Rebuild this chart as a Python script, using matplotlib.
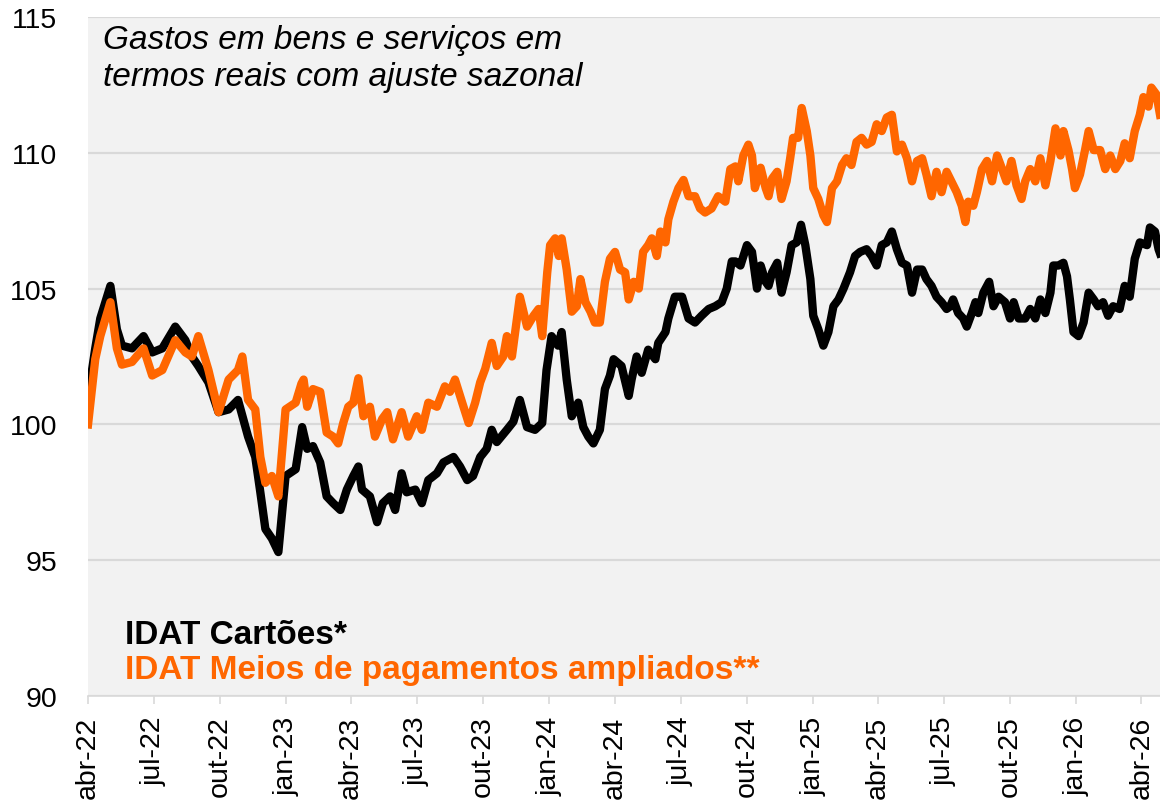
import matplotlib
matplotlib.use("Agg")
import matplotlib.pyplot as plt
import pandas as pd

plt.rcParams['font.family'] = ['Liberation Sans', 'DejaVu Sans']

# dias desde 01/04/2022 e valores
dias_cartoes = [0, 10, 17, 31, 40, 47, 61, 77, 89, 103, 121, 135, 144, 153, 167, 181, 195, 208,
                222, 232, 239, 246, 255, 264, 274, 288, 297, 304, 312, 322, 331, 340, 350, 359,
                368, 375, 380, 391, 401, 409, 419, 426, 435, 442, 454, 463, 472, 484, 493, 507,
                516, 526, 534, 544, 553, 560, 567, 581, 590, 599, 609, 620, 630, 636, 643, 652,
                657, 664, 671, 680, 687, 694, 701, 710, 717, 724, 729, 740, 750, 754, 761, 768,
                777, 787, 791, 801, 805, 814, 824, 833, 842, 851, 861, 870, 879, 886, 893, 898,
                905, 914, 921, 928, 933, 940, 944, 949, 956, 962, 969, 976, 983, 989, 995, 1002,
                1006, 1013, 1020, 1027, 1034, 1041, 1048, 1057, 1064, 1071, 1080, 1087, 1094,
                1101, 1108, 1115, 1122, 1129, 1136, 1143, 1150, 1157, 1163, 1170, 1177, 1184,
                1191, 1196, 1200, 1207, 1214, 1219, 1226, 1231, 1235, 1242, 1250, 1256, 1263,
                1272, 1279, 1284, 1291, 1300, 1307, 1314, 1321, 1328, 1335, 1339, 1346, 1353,
                1358, 1362, 1367, 1374, 1381, 1388, 1395, 1401, 1408, 1415, 1422, 1431, 1438,
                1445, 1452, 1459, 1469, 1473, 1480, 1485, 1487]
cartoes = [101.0, 102.8, 103.9, 105.1, 103.5, 102.9, 102.8, 103.25, 102.65, 102.8, 103.6, 103.1,
           102.5, 102.15, 101.55, 100.45, 100.55, 100.9, 99.55, 98.8, 97.5, 96.15, 95.8, 95.3,
           98.1, 98.35, 99.9, 99.1, 99.2, 98.6, 97.35, 97.1, 96.85, 97.6, 98.1, 98.45, 97.6,
           97.35, 96.4, 97.1, 97.35, 96.85, 98.2, 97.5, 97.6, 97.1, 97.95, 98.2, 98.6, 98.8,
           98.45, 97.95, 98.1, 98.8, 99.1, 99.8, 99.35, 99.8, 100.1, 100.9, 99.9, 99.8, 100.05,
           102.0, 103.25, 102.9, 103.4, 101.65, 100.3, 100.8, 99.9, 99.55, 99.3, 99.8, 101.3,
           101.8, 102.4, 102.15, 101.05, 101.65, 102.5, 101.9, 102.75, 102.4, 103.0, 103.4,
           103.9, 104.7, 104.7, 103.9, 103.75, 104.0, 104.25, 104.35, 104.5, 105.0, 106.0,
           106.0, 105.85, 106.6, 106.35, 105.0, 105.85, 105.25, 105.1, 105.6, 105.95, 104.85,
           105.6, 106.6, 106.7, 107.35, 106.6, 105.35, 104.0, 103.5, 102.9, 103.4, 104.35,
           104.6, 105.0, 105.6, 106.2, 106.35, 106.45, 106.2, 105.85, 106.6, 106.7, 107.1,
           106.45, 105.95, 105.85, 104.85, 105.7, 105.7, 105.35, 105.1, 104.7, 104.5, 104.25,
           104.35, 104.6, 104.1, 103.9, 103.6, 104.1, 104.5, 104.1, 104.85, 105.25, 104.35,
           104.7, 104.5, 103.9, 104.5, 103.9, 103.9, 104.25, 103.9, 104.6, 104.1, 104.85,
           105.85, 105.85, 105.95, 105.45, 104.6, 103.4, 103.25, 103.75, 104.85, 104.6, 104.35,
           104.5, 104.0, 104.35, 104.25, 105.1, 104.7, 106.1, 106.7, 106.6, 107.25, 107.1,
           106.45, 106.3]

dias_ampliados = [0, 10, 17, 31, 40, 47, 61, 77, 89, 103, 121, 135, 144, 153, 167, 181, 195, 208,
                  214, 222, 232, 239, 246, 255, 264, 274, 288, 296, 299, 304, 312, 322, 331, 340,
                  347, 354, 361, 368, 375, 382, 391, 398, 408, 415, 423, 435, 444, 456, 463, 472,
                  484, 495, 502, 509, 519, 528, 537, 544, 551, 560, 567, 576, 581, 588, 592, 599,
                  609, 618, 625, 630, 637, 641, 648, 653, 657, 664, 671, 678, 683, 690, 697, 703,
                  710, 717, 724, 731, 738, 745, 750, 757, 764, 770, 777, 782, 789, 794, 801, 805,
                  812, 819, 826, 833, 842, 849, 856, 865, 874, 884, 891, 898, 902, 909, 916, 921,
                  925, 933, 940, 944, 949, 956, 962, 969, 974, 978, 985, 990, 997, 1002, 1006,
                  1013, 1020, 1025, 1032, 1039, 1046, 1052, 1059, 1066, 1073, 1080, 1087, 1094,
                  1101, 1108, 1115, 1122, 1129, 1136, 1143, 1150, 1157, 1163, 1170, 1177, 1184,
                  1191, 1205, 1212, 1217, 1221, 1228, 1233, 1240, 1247, 1254, 1261, 1268, 1274,
                  1281, 1288, 1295, 1300, 1307, 1314, 1321, 1328, 1335, 1342, 1349, 1353, 1360,
                  1365, 1369, 1376, 1383, 1388, 1395, 1404, 1411, 1418, 1425, 1432, 1438, 1445,
                  1452, 1459, 1464, 1471, 1475, 1482, 1487]
ampliados = [100.0, 102.4, 103.25, 104.5, 102.8, 102.2, 102.3, 102.8, 101.8, 102.0, 103.1, 102.65,
             102.5, 103.25, 102.0, 100.45, 101.65, 102.0, 102.5, 100.9, 100.55, 98.8, 97.85, 98.1,
             97.35, 100.55, 100.8, 101.5, 101.65, 100.65, 101.3, 101.2, 99.7, 99.55, 99.3, 100.05,
             100.65, 100.8, 101.7, 100.3, 100.65, 99.55, 100.2, 100.45, 99.45, 100.45, 99.55,
             100.3, 99.8, 100.8, 100.65, 101.4, 101.2, 101.65, 100.8, 100.05, 100.8, 101.55,
             102.05, 103.0, 102.15, 102.5, 103.25, 102.5, 103.3, 104.7, 103.6, 104.0, 104.25,
             103.25, 105.6, 106.6, 106.85, 106.2, 106.85, 105.7, 104.15, 104.35, 105.35, 104.5,
             104.15, 103.75, 103.75, 105.25, 106.1, 106.35, 105.7, 105.6, 104.6, 105.25, 105.0,
             106.35, 106.6, 106.85, 106.2, 107.1, 106.7, 107.55, 108.2, 108.7, 109.0, 108.4,
             108.4, 107.95, 107.8, 107.95, 108.4, 108.2, 109.4, 109.5, 108.95, 109.9, 110.3,
             109.9, 108.7, 109.45, 108.7, 108.4, 109.05, 109.3, 108.3, 108.95, 109.8, 110.55,
             110.55, 111.65, 110.8, 109.9, 108.7, 108.3, 107.7, 107.45, 108.7, 108.95, 109.55,
             109.8, 109.55, 110.4, 110.55, 110.3, 110.4, 111.05, 110.8, 111.3, 111.4, 110.05,
             110.3, 109.8, 108.95, 109.7, 109.8, 109.2, 108.4, 109.3, 108.55, 109.3, 108.55,
             108.05, 107.45, 108.2, 108.05, 108.55, 109.4, 109.7, 108.95, 109.9, 109.4, 108.95,
             109.7, 108.8, 108.3, 108.95, 109.4, 108.95, 109.8, 108.8, 109.7, 110.9, 109.9,
             110.8, 110.1, 109.4, 108.7, 109.2, 110.1, 110.8, 110.1, 110.1, 109.4, 109.9, 109.4,
             109.7, 110.35, 109.8, 110.8, 111.4, 112.05, 111.7, 112.4, 112.15, 111.4]

rotulos_x = ['abr-22', 'jul-22', 'out-22', 'jan-23', 'abr-23', 'jul-23', 'out-23', 'jan-24',
             'abr-24', 'jul-24', 'out-24', 'jan-25', 'abr-25', 'jul-25', 'out-25', 'jan-26',
             'abr-26']

inicio = pd.Timestamp('2022-04-01')
x_cartoes = inicio + pd.to_timedelta(dias_cartoes, unit='D')
x_ampliados = inicio + pd.to_timedelta(dias_ampliados, unit='D')
ticks_x = pd.date_range('2022-04-01', periods=len(rotulos_x), freq='QS-APR')

fig = plt.figure(figsize=(11.6, 8.03), dpi=100)
ax = fig.add_axes([0.0759, 0.132, 0.9241, 0.8456])
ax.set_facecolor('#f2f2f2')

ax.plot(x_cartoes, cartoes, color='black', linewidth=6, solid_joinstyle='round', zorder=3)
ax.plot(x_ampliados, ampliados, color='#ff6600', linewidth=6, solid_joinstyle='round', zorder=4)

ax.set_ylim(90, 115)
ax.set_yticks([90, 95, 100, 105, 110, 115])
ax.set_xlim(inicio, inicio + pd.Timedelta(days=1487))
ax.set_xticks(ticks_x)
ax.set_xticklabels(rotulos_x, rotation=90)

ax.grid(axis='y', color='#d9d9d9', linewidth=1.6)
ax.set_axisbelow(True)
for s in ['top', 'right', 'left']:
    ax.spines[s].set_visible(False)
ax.spines['bottom'].set_color('#d9d9d9')
ax.spines['bottom'].set_linewidth(1.2)
ax.tick_params(axis='y', length=0, pad=22, labelsize=20.5)
ax.tick_params(axis='x', length=6, width=1.2, color='#d9d9d9', pad=8, labelsize=20.5)

ax.text(0.014, 0.990, 'Gastos em bens e serviços em\ntermos reais com ajuste sazonal',
        transform=ax.transAxes, ha='left', va='top', fontsize=24, style='italic',
        linespacing=1.25)
ax.text(0.0345, 0.090, 'IDAT Cartões*', transform=ax.transAxes, ha='left', va='center',
        fontsize=24, fontweight='bold', color='black')
ax.text(0.0345, 0.039, 'IDAT Meios de pagamentos ampliados**', transform=ax.transAxes,
        ha='left', va='center', fontsize=24, fontweight='bold', color='#ff6600')

fig.savefig('out.png', dpi=100)
